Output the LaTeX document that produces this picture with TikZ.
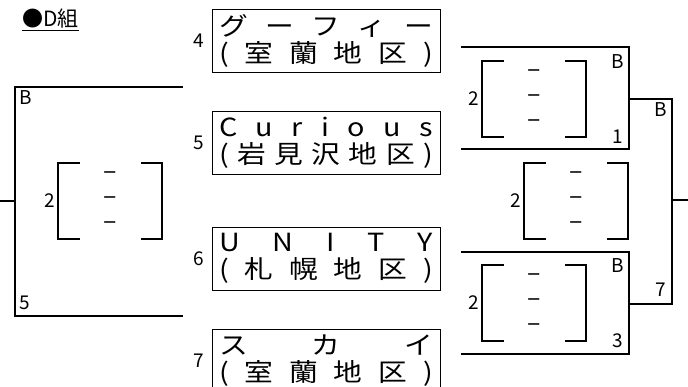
\documentclass[tikz,border=0pt]{standalone}
\usepackage{fontspec}
\setmainfont{Noto Sans CJK JP}
\newfontfamily\teamfont[FakeStretch=1.15]{Noto Sans CJK JP}
\usetikzlibrary{positioning}
\newcommand\spreadrow[1]{\makebox[214pt]{#1}}
\begin{document}
\begin{tikzpicture}[x=1pt,y=-1pt]
\tikzset{
  team/.style={draw, line width=0.8pt, minimum width=228pt, minimum height=63pt,
    inner sep=0pt, align=center, font=\teamfont\fontsize{25}{27}\selectfont},
  lab/.style={inner sep=0pt, font=\fontsize{19}{19}\selectfont},
  scoredash/.style={inner sep=0pt, font=\fontsize{25}{25}\selectfont},
  bline/.style={line width=1.6pt},
  scorebox/.pic={
    \draw[bline] (-30,-38) -- (-52,-38) -- (-52,38) -- (-30,38);
    \draw[bline] (31,-38) -- (52,-38) -- (52,38) -- (31,38);
    \node[scoredash] (-d1) at (0,-25) {–};
    \node[scoredash] (-d2) at (0,0) {–};
    \node[scoredash] (-d3) at (0,25) {–};
    \node[lab, anchor=east] (-g) at (-55,0) {2};
  }
}
\useasboundingbox (0,0) rectangle (688,387);
\clip (0,0) rectangle (688,387);
% title
\node[anchor=base west, inner sep=0pt, font=\fontsize{21}{21}\selectfont] (title) at (22,27) {\underline{●D組}};
% teams
\node[team] (t4) at (326,41) {\spreadrow{グ\hfill ー\hfill フ\hfill ィ\hfill ー}\\\spreadrow{(\hfill 室\hfill 蘭\hfill 地\hfill 区\hfill )}};
\node[team] (t5) at (326,143) {\spreadrow{C\hfill u\hfill r\hfill i\hfill o\hfill u\hfill s}\\\spreadrow{(\hfill 岩\hfill 見\hfill 沢\hfill 地\hfill 区\hfill )}};
\node[team] (t6) at (326,258.5) {\spreadrow{U\hfill N\hfill I\hfill T\hfill Y}\\\spreadrow{(\hfill 札\hfill 幌\hfill 地\hfill 区\hfill )}};
\node[team] (t7) at (326,360.5) {\spreadrow{ス\hfill カ\hfill イ}\\\spreadrow{(\hfill 室\hfill 蘭\hfill 地\hfill 区\hfill )}};
\node[lab, left=7pt of t4] (n4) {4};
\node[lab, left=7pt of t5] (n5) {5};
\node[lab, left=7pt of t6] (n6) {6};
\node[lab, left=7pt of t7] (n7) {7};
% left bracket
\coordinate (l1) at (183,87);
\coordinate (l2) at (183,316);
\coordinate (l0) at (0,201);
\draw[bline] (l1) -- (15,87) |- (l2);
\draw[bline] (l0) -- (15,201);
\node[lab] (bL) at (26,98) {B};
\node[lab] (wL) at (25,303) {5};
\pic (sL) at (110,201) {scorebox};
% right brackets
\coordinate (r1a) at (461,47);
\coordinate (r1b) at (461,149);
\coordinate (r2a) at (461,252);
\coordinate (r2b) at (461,354);
\coordinate (r0) at (688,200);
\draw[bline] (r1a) -| (629,99) |- (r1b);
\draw[bline] (r2a) -| (629,304) |- (r2b);
\draw[bline] (629,99) -| (672,200) |- (629,304);
\draw[bline] (r0) -- (672,200);
\node[lab] (b1) at (618,62) {B};
\node[lab] (w1) at (618,137) {1};
\node[lab] (bF) at (661,110) {B};
\node[lab] (wF) at (661,290) {7};
\node[lab] (b2) at (618,266) {B};
\node[lab] (w2) at (618,341) {3};
\pic (sR1) at (534,99) {scorebox};
\pic (sM) at (576,201) {scorebox};
\pic (sR2) at (534,303) {scorebox};
\end{tikzpicture}
\end{document}
